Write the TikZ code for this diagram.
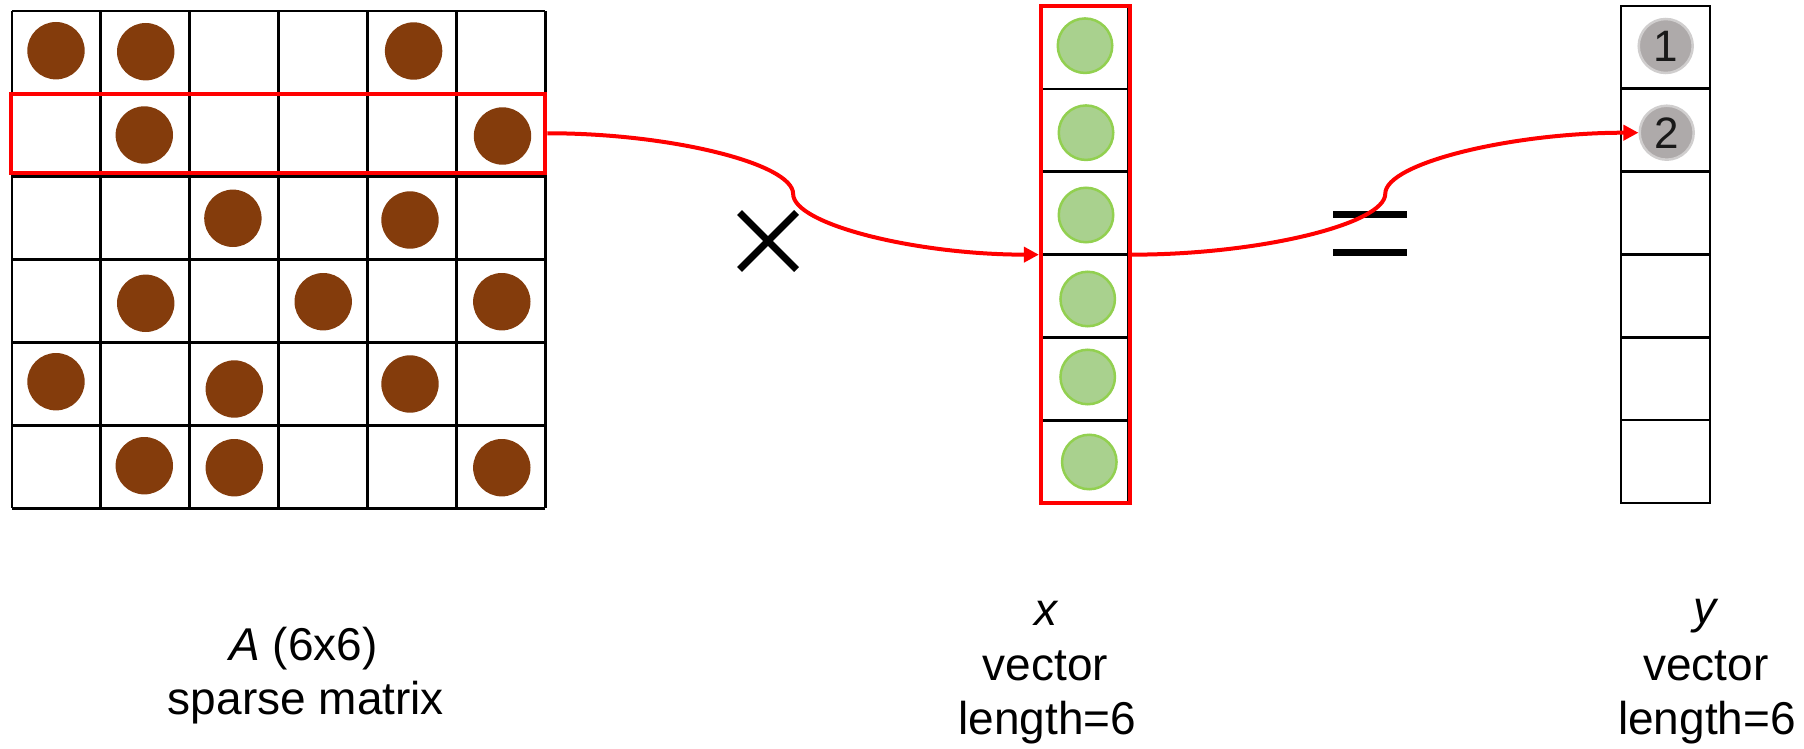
\documentclass[tikz,border=0pt]{standalone}
\usepackage{fontspec}
\setmainfont{Liberation Sans}
\usetikzlibrary{arrows.meta,calc}
\definecolor{brownc}{HTML}{843C0C}
\definecolor{greenfill}{HTML}{A9D18E}
\definecolor{greenline}{HTML}{92D050}
\definecolor{grayfill}{HTML}{AEAAAA}
\definecolor{grayline}{HTML}{D0CECE}
\definecolor{redc}{HTML}{FF0000}
\begin{document}
\begin{tikzpicture}[x=1pt,y=-1pt,
  gridline/.style={draw=black, line width=2.6pt},
  bdot/.style={circle, fill=brownc, minimum size=57.4pt, inner sep=0pt},
  gdot/.style={circle, fill=greenfill, draw=greenline, line width=2.5pt, minimum size=54.5pt, inner sep=0pt},
  ydot/.style={circle, fill=grayfill, draw=grayline, line width=2.5pt, minimum size=54pt, inner sep=0pt, font=\fontsize{44pt}{50pt}\selectfont, text=black!90},
  redbox/.style={rectangle, draw=redc, inner sep=0pt},
  conn/.style={draw=redc, line width=4pt, -{Triangle[length=15pt,width=15pt]}},
  opline/.style={draw=black, line width=7pt},
  lbl/.style={anchor=base, inner sep=0pt, font=\fontsize{46pt}{55pt}\selectfont}
]
\useasboundingbox (0,0) rectangle (1804,749);

% ---- sparse matrix grid ----
\foreach \i in {0,...,6} {
  \draw[gridline] ({11.8+88.93*\i},11) -- ({11.8+88.93*\i},508.3);
  \draw[gridline] (11.8,{11+82.88*\i}) -- (545.4,{11+82.88*\i});
}
\foreach \p [count=\k] in {(56,50.7), (145.7,51.7), (413.6,51),
  (144.3,135), (502.5,136),
  (232.9,218.3), (410,220),
  (145.7,303.3), (323.2,301.7), (501.8,301.7),
  (56,381.7), (234.3,389), (410,384),
  (144.3,465.7), (234.3,467.7), (501.8,467.7)}
  \node[bdot] (m\k) at \p {};

\node[redbox, line width=4pt, minimum width=534.4pt, minimum height=78.5pt] (rowbox) at (278.2,133.25) {};

% ---- x vector ----
\draw[gridline, line width=2.7pt] (1042,6) rectangle (1128.5,503.5);
\foreach \i in {1,...,5}
  \draw[gridline, line width=2.7pt] (1042,{6+82.9*\i}) -- (1128.5,{6+82.9*\i});
\foreach \p [count=\k] in {(1085,45.7), (1086,132.7), (1086,215), (1087.7,299), (1087.7,377), (1089.3,462)}
  \node[gdot] (g\k) at \p {};
\node[redbox, line width=4.2pt, minimum width=89pt, minimum height=496.7pt] (xred) at (1085.5,254.65) {};

% ---- y vector ----
\draw[gridline, line width=2.7pt] (1621,6) rectangle (1710,503);
\foreach \i in {1,...,5}
  \draw[gridline, line width=2.7pt] (1621,{6+82.8*\i}) -- (1710,{6+82.8*\i});
\node[ydot] (y1) at (1665.7,46) {1};
\node[ydot] (y2) at (1666.7,132.7) {2};

% ---- operators ----
\coordinate (tc) at (768,241);
\draw[opline] ($(tc)+(-28.5,-28.5)$) -- ($(tc)+(28.5,28.5)$);
\draw[opline] ($(tc)+(-28.5,28.5)$) -- ($(tc)+(28.5,-28.5)$);
\coordinate (ec) at (1370,233.7);
\draw[opline, line width=7.5pt] ($(ec)+(-37,-19)$) -- ($(ec)+(37,-19)$);
\draw[opline, line width=7.5pt] ($(ec)+(-37,19)$) -- ($(ec)+(37,19)$);

% ---- connectors ----
\path (rowbox.east) coordinate (a1s) (xred.west) coordinate (a1e);
\path ($(a1s)!0.5!(a1e)$) coordinate (a1m);
\draw[conn] (a1s) .. controls ($(a1s)!0.5!(a1m|-a1s)$) and ($(a1m)!0.5!(a1m|-a1s)$) .. (a1m)
  .. controls ($(a1m)!0.5!(a1m|-a1e)$) and ($(a1e)!0.5!(a1m|-a1e)$) .. (a1e);

\path (xred.east) coordinate (a2s) (y2.west) coordinate (a2e);
\path ($(a2s)!0.5!(a2e)$) coordinate (a2m);
\draw[conn] (a2s) .. controls ($(a2s)!0.5!(a2m|-a2s)$) and ($(a2m)!0.5!(a2m|-a2s)$) .. (a2m)
  .. controls ($(a2m)!0.5!(a2m|-a2e)$) and ($(a2e)!0.5!(a2m|-a2e)$) .. (a2e);

% ---- labels ----
\node[lbl] (la1) at (303.5,660) {\textit{A} (6x6)};
\node[lbl] (la2) at (306,714) {sparse matrix};
\node[lbl] (lx1) at (1047,625) {\textit{x}};
\node[lbl] (lx2) at (1045.5,680) {vector};
\node[lbl] (lx3) at (1047.5,734) {length=6};
\node[lbl] (ly1) at (1706,623) {\textit{y}};
\node[lbl] (ly2) at (1706,680) {vector};
\node[lbl] (ly3) at (1707,734) {length=6};
\end{tikzpicture}
\end{document}
